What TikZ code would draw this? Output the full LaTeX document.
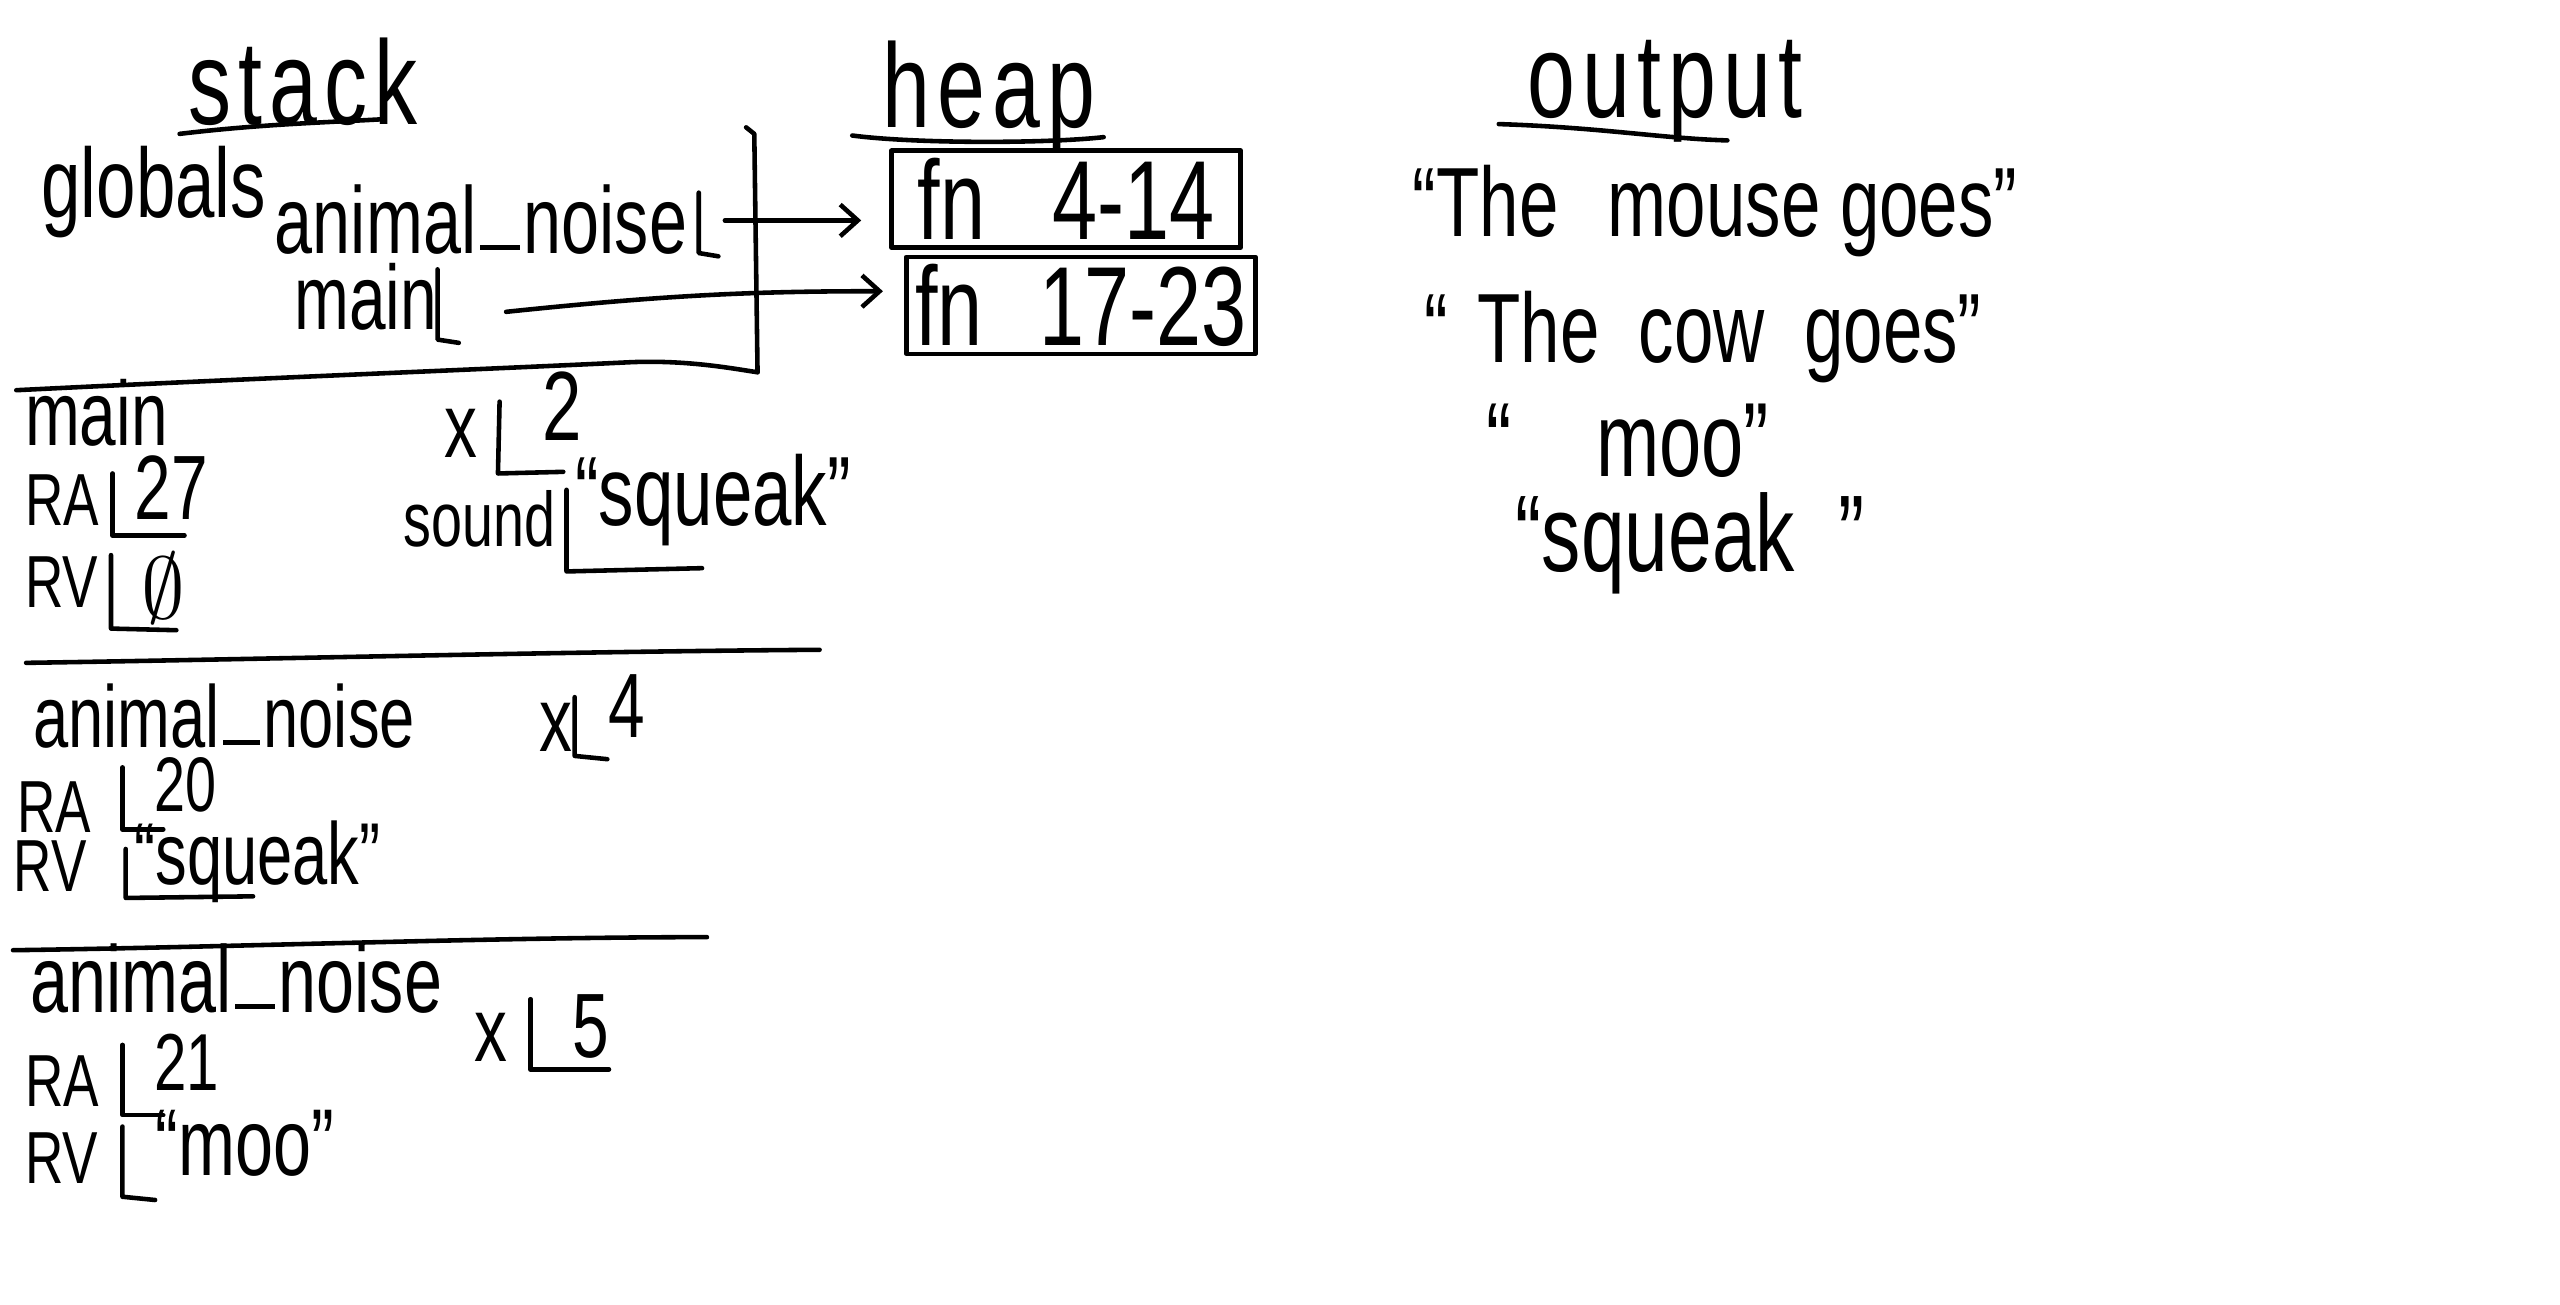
\documentclass[tikz,border=0pt]{standalone}
\usepackage{fontspec}
\setmainfont{Liberation Sans}[FakeStretch=0.72]
\usetikzlibrary{arrows.meta}
\newcommand\usc{\kern0.04em\rule[0.03em]{0.42em}{0.055em}\kern0.04em}
\begin{document}
\begin{tikzpicture}[x=0.016327cm, y=-0.016327cm,
  pen/.style={line width=1.3pt, line cap=round, line join=round},
  t/.style={inner sep=0pt, anchor=base west},
  lbl/.style={t, font=\fontsize{25}{30}\selectfont},
  reg/.style={t, font=\fontsize{21}{26}\selectfont},
  val/.style={t, font=\fontsize{26}{30}\selectfont},
  head/.style={t, font=\fontsize{34}{40}\selectfont\addfontfeatures{LetterSpace=6}},
  outl/.style={t, font=\fontsize{28}{34}\selectfont},
  fnbox/.style={draw, pen, inner sep=0pt, minimum width=3.49cm, minimum height=0.97cm, font=\fontsize{32}{36}\selectfont},
  arr/.style={pen, -{Straight Barb[length=5pt,width=9pt]}}
]
\fill[white] (0,0) rectangle (1568,799);
\useasboundingbox (0,0) rectangle (1568,799);

% headings
\node[head] (stack) at (115,76) {stack};
\node[head] (heap) at (540,78) {heap};
\node[head] (output) at (935,72) {output};
\draw[pen] (110,82) .. controls (160,76) and (200,75) .. (235,73);
\draw[pen] (522,83) .. controls (560,88) and (640,88) .. (676,84);
\draw[pen] (918,76) .. controls (980,78) and (1020,85) .. (1058,86);

% globals
\node[t, font=\fontsize{28}{32}\selectfont] (globals) at (25,133) {globals};
\node[t, font=\fontsize{27}{32}\selectfont] (gan) at (168,155) {animal\usc noise};
\draw[pen] (428,118) -- (428,155) -- (440,157);
\node[t, font=\fontsize{26}{32}\selectfont] (gmain) at (180,202) {main};
\draw[pen] (268,165) -- (268,208) -- (281,210);
\coordinate (anslot) at (444,135);
\coordinate (mainslot) at (310,191);

\node[fnbox] (fn1) at (653,122) {fn\hspace{0.6em}4-14};
\node[fnbox] (fn2) at (662,187) {fn\hspace{0.5em}17-23};

\draw[arr, shorten >=8pt] (anslot) -- (anslot -| fn1.west);
\draw[arr, shorten >=6pt] (mainslot) to[bend left=3] ([yshift=4pt]fn2.west);

\draw[pen] (457,78) -- (462,82) -- (464,228);
\draw[pen] (10,239) .. controls (150,232) and (300,226) .. (383,222) .. controls (420,220) and (450,226) .. (464,228);

% frame main
\node[t, font=\fontsize{26}{30}\selectfont] (fmain) at (15,273) {main};
\node[reg] (ra1) at (15,322) {RA};
\draw[pen] (69,290) -- (69,328) -- (113,328);
\node[val] (ra1v) at (82,318) {27};
\node[reg] (rv1) at (15,372) {RV};
\draw[pen] (68,340) -- (68,385) -- (108,386);
\node[val, anchor=center] (rv1v) at (100,360) {$\emptyset$};
\node[val] (x1) at (272,280) {x};
\draw[pen] (306,246) -- (305,290) -- (345,289);
\node[val, font=\fontsize{28}{30}\selectfont] (x1v) at (332,270) {2};
\node[t, font=\fontsize{22}{26}\selectfont] (sound) at (247,335) {sound};
\draw[pen] (347,300) -- (347,350) -- (430,348);
\node[t, font=\fontsize{28}{32}\selectfont] (soundv) at (352,322) {“squeak”};
\draw[pen] (16,406) .. controls (150,404) and (350,399) .. (502,398);

% frame animal_noise 1
\node[lbl] (fan1) at (20,458) {animal\usc noise};
\node[val] (x2) at (330,460) {x};
\draw[pen] (352,427) -- (352,463) -- (372,465);
\node[val] (x2v) at (372,452) {4};
\node[reg] (ra2) at (10,510) {RA};
\draw[pen] (75,470) -- (75,508) -- (100,508);
\node[val, font=\fontsize{22}{30}\selectfont] (ra2v) at (94,497) {20};
\node[reg] (rv2) at (8,546) {RV};
\draw[pen] (77,520) -- (77,550) -- (155,549);
\node[t, font=\fontsize{25}{30}\selectfont] (rv2v) at (82,542) {“squeak”};
\draw[pen] (8,582) .. controls (150,580) and (300,574) .. (433,574);

% frame animal_noise 2
\node[t, font=\fontsize{27}{30}\selectfont] (fan2) at (18,620) {animal\usc noise};
\node[val] (x3) at (290,650) {x};
\draw[pen] (325,612) -- (325,655) -- (373,655);
\node[val] (x3v) at (350,648) {5};
\node[reg] (ra3) at (15,678) {RA};
\draw[pen] (75,640) -- (75,683) -- (100,683);
\node[val, font=\fontsize{23}{30}\selectfont] (ra3v) at (94,668) {21};
\node[reg] (rv3) at (15,725) {RV};
\draw[pen] (75,690) -- (75,733) -- (95,735);
\node[t, font=\fontsize{27}{30}\selectfont] (rv3v) at (95,720) {“moo”};

% output
\node[outl] (o1) at (865,145) {“The\hspace{0.5em}mouse goes”};
\node[outl] (o2) at (872,222) {“\hspace{0.3em}The\hspace{0.4em}cow\hspace{0.4em}goes”};
\node[outl, font=\fontsize{30}{34}\selectfont] (o3) at (910,292) {“\hspace{0.8em}moo”};
\node[outl, font=\fontsize{31}{34}\selectfont] (o4) at (928,350) {“squeak\hspace{0.4em}”};
\end{tikzpicture}
\end{document}
